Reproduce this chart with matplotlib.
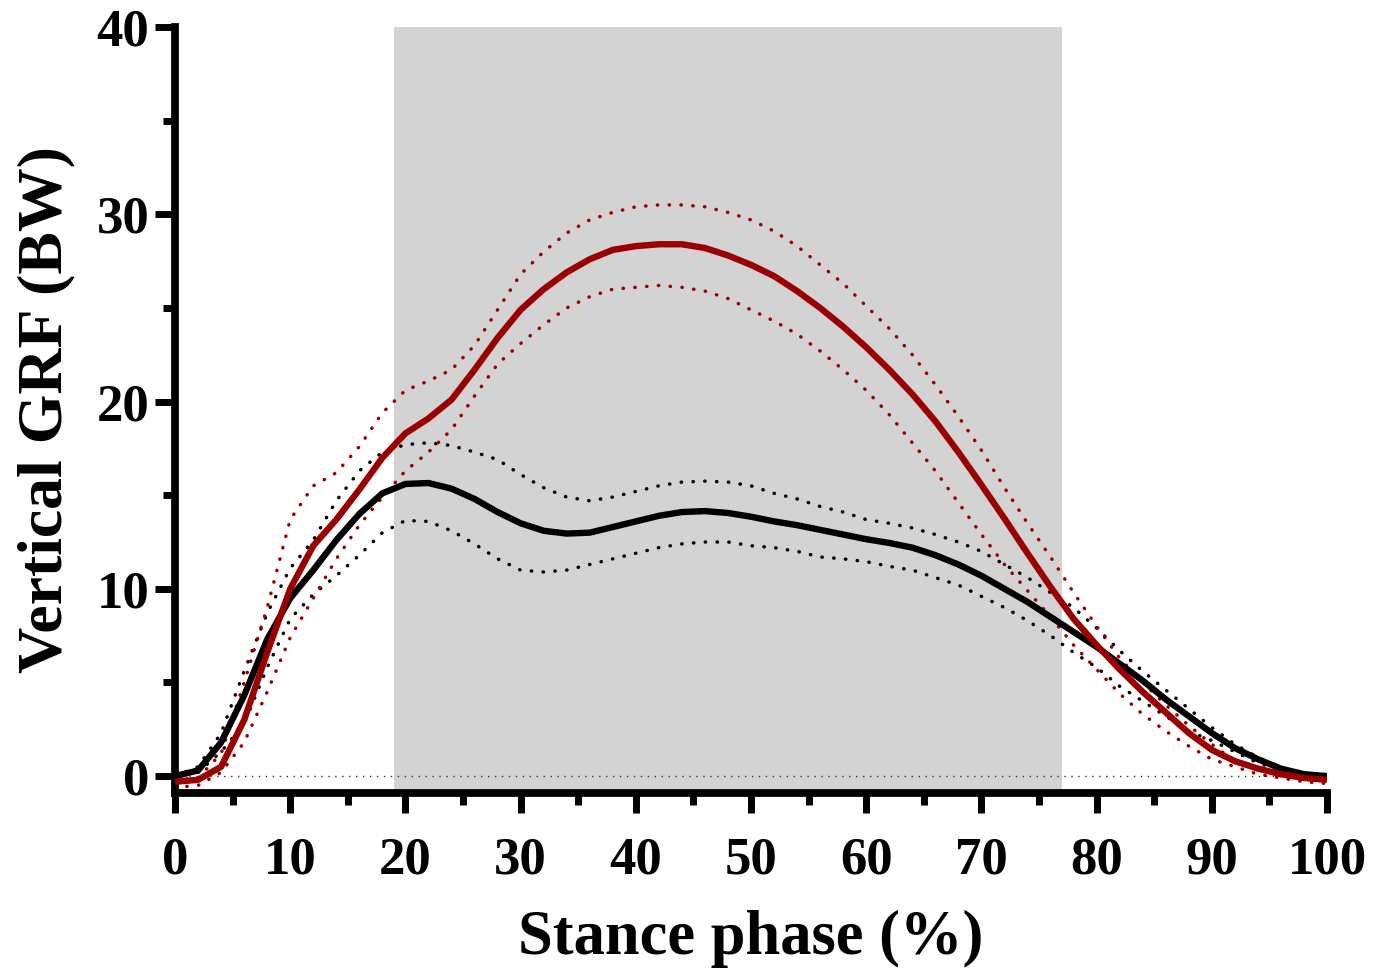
import matplotlib
matplotlib.use("Agg")
import matplotlib.pyplot as plt
from matplotlib.ticker import MultipleLocator

# Stance phase (%) sampled every 2 %
stance = list(range(0, 101, 2))

# Group A (dark red): mean and mean ± SD of vertical GRF (BW)
red_mean = [-0.3, -0.2, 0.5, 3.0, 6.6, 10.0, 12.3, 13.7, 15.3, 17.0,
            18.3, 19.1, 20.1, 21.7, 23.4, 24.9, 26.0, 26.9, 27.6, 28.1,
            28.3, 28.4, 28.4, 28.2, 27.8, 27.3, 26.7, 25.9, 25.0, 24.0,
            22.9, 21.7, 20.4, 18.95, 17.3, 15.55, 13.75, 11.9, 10.1, 8.4,
            7.0, 5.7, 4.5, 3.4, 2.3, 1.4, 0.8, 0.4, 0.1, -0.1, -0.2]
red_upper = [-0.2, -0.1, 1.2, 5.0, 9.0, 13.7, 15.5, 16.2, 17.6, 19.4,
             20.6, 21.1, 21.7, 23.0, 24.9, 26.8, 28.0, 29.0, 29.7, 30.1,
             30.4, 30.5, 30.5, 30.4, 30.1, 29.7, 29.1, 28.3, 27.3, 26.3,
             25.1, 23.9, 22.5, 20.9, 19.2, 17.4, 15.4, 13.5, 11.7, 9.8,
             8.0, 6.3, 5.0, 3.8, 2.7, 1.7, 0.8, 0.4, 0.0, -0.2, -0.3]
red_lower = [-0.6, -0.5, 0.2, 1.8, 4.5, 7.4, 9.5, 11.6, 13.4, 14.9,
             16.3, 17.3, 18.5, 20.3, 22.0, 23.1, 24.1, 25.0, 25.6, 26.0,
             26.1, 26.2, 26.1, 25.9, 25.5, 24.9, 24.3, 23.6, 22.7, 21.7,
             20.6, 19.3, 17.8, 16.3, 14.6, 12.9, 11.3, 9.9, 8.5, 7.0,
             5.7, 4.4, 3.3, 2.4, 1.6, 0.9, 0.5, 0.1, -0.1, -0.3, -0.4]

# Group B (black): mean and mean ± SD of vertical GRF (BW)
black_mean = [0.0, 0.3, 1.8, 4.3, 7.3, 9.5, 11.0, 12.6, 14.0, 15.1,
              15.6, 15.65, 15.35, 14.8, 14.1, 13.5, 13.1, 12.95, 13.0, 13.3,
              13.6, 13.9, 14.1, 14.15, 14.05, 13.85, 13.6, 13.4, 13.15, 12.9,
              12.65, 12.45, 12.2, 11.8, 11.3, 10.7, 10.0, 9.3, 8.5, 7.7,
              6.9, 6.0, 5.1, 4.1, 3.2, 2.3, 1.5, 0.9, 0.4, 0.1, 0.0]
black_upper = [0.0, 0.5, 2.3, 5.6, 8.7, 11.1, 12.6, 14.7, 16.3, 17.3,
               17.7, 17.8, 17.65, 17.3, 16.9, 16.1, 15.4, 14.9, 14.7, 14.9,
               15.2, 15.5, 15.7, 15.75, 15.7, 15.5, 15.1, 14.8, 14.4, 14.1,
               13.7, 13.5, 13.25, 12.9, 12.5, 12.0, 11.3, 10.6, 9.8, 9.0,
               7.9, 6.7, 5.6, 4.6, 3.6, 2.6, 1.7, 1.0, 0.45, 0.1, 0.0]
black_lower = [0.0, 0.2, 1.3, 2.8, 5.8, 8.4, 9.7, 10.7, 11.8, 13.0,
               13.65, 13.6, 13.1, 12.4, 11.6, 11.0, 10.9, 11.0, 11.3, 11.6,
               11.9, 12.2, 12.4, 12.5, 12.5, 12.3, 12.2, 12.0, 11.7, 11.6,
               11.45, 11.2, 11.0, 10.6, 10.2, 9.6, 9.0, 8.3, 7.5, 6.6,
               5.8, 4.8, 4.0, 3.2, 2.4, 1.9, 1.3, 0.7, 0.3, 0.1, 0.0]

# Shaded window of the stance phase (%)
shade_start, shade_end = 19, 77

RED = "#9b0000"
FONT = "Liberation Serif"

fig = plt.figure(figsize=(13.75, 9.72), dpi=100)
ax = fig.add_axes([0.1273, 0.1842, 0.9651 - 0.1273, 0.9722 - 0.1842])

ax.axvspan(shade_start, shade_end, color="#d3d3d3", lw=0, zorder=0)
ax.axhline(0, color="#333333", lw=1.0, ls=(0, (1, 4)), zorder=1)

dot = dict(lw=2.5, ls=(0, (0.1, 3.3)), dash_capstyle="round", zorder=2)
ax.plot(stance, black_upper, color="black", **dot)
ax.plot(stance, black_lower, color="black", **dot)
ax.plot(stance, red_upper, color=RED, **dot)
ax.plot(stance, red_lower, color=RED, **dot)
ax.plot(stance, black_mean, color="black", lw=4.6, solid_capstyle="butt",
        solid_joinstyle="round", zorder=3)
ax.plot(stance, red_mean, color=RED, lw=4.6, solid_capstyle="butt",
        solid_joinstyle="round", zorder=3)

ax.set_xlim(0, 100)
ax.set_ylim(-0.9, 40)
ax.spines["top"].set_visible(False)
ax.spines["right"].set_visible(False)
for s in ("left", "bottom"):
    ax.spines[s].set_linewidth(5.6)
    ax.spines[s].set_capstyle("projecting")

ax.xaxis.set_major_locator(MultipleLocator(10))
ax.xaxis.set_minor_locator(MultipleLocator(5))
ax.yaxis.set_major_locator(MultipleLocator(10))
ax.yaxis.set_minor_locator(MultipleLocator(5))
ax.tick_params(which="major", length=14.5, width=5.0)
ax.tick_params(which="minor", length=8.5, width=5.0)
ax.tick_params(axis="x", which="major", pad=17)
ax.tick_params(axis="y", which="major", pad=4)

for lab in ax.get_xticklabels() + ax.get_yticklabels():
    lab.set_fontfamily(FONT)
    lab.set_fontweight("bold")
    lab.set_fontsize(38)

ax.set_xlabel("Stance phase (%)", fontfamily=FONT, fontweight="bold",
              fontsize=45, labelpad=18)
ax.set_ylabel("Vertical GRF (BW)", fontfamily=FONT, fontweight="bold",
              fontsize=46, labelpad=15)

fig.savefig("out.png", dpi=100)
